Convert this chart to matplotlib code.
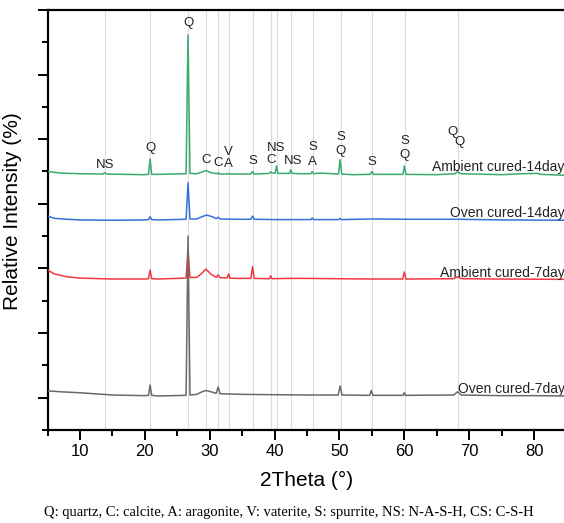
import matplotlib
matplotlib.use("Agg")
import matplotlib.pyplot as plt
from matplotlib.ticker import MultipleLocator, NullFormatter

plt.rcParams["font.family"] = ["Liberation Sans", "DejaVu Sans"]

# XRD traces, 2theta (deg) vs relative intensity, already stacked
oven7_tt = [5, 7, 10, 15, 20, 20.55, 20.8, 21.05, 22, 26.35, 26.65, 26.95, 28, 28.8, 29.4, 30.2,
            31.0, 31.3, 31.6, 35, 40, 45, 49.8, 50.1, 50.4, 54.65, 54.9, 55.15, 59.8, 60.0, 60.2,
            67.6, 68.2, 68.8, 75, 80, 85]
oven7_y = [0.21, 0.18, 0.15, 0.08, 0.06, 0.07, 0.39, 0.07, 0.05, 0.07, 5.0, 0.08, 0.10, 0.18, 0.22,
           0.18, 0.13, 0.33, 0.12, 0.10, 0.09, 0.08, 0.08, 0.36, 0.08, 0.07, 0.22, 0.07, 0.07, 0.15,
           0.07, 0.08, 0.18, 0.08, 0.06, 0.06, 0.05]

amb7_tt = [5, 6, 8, 10, 15, 20, 20.55, 20.8, 21.05, 22, 26.35, 26.65, 26.95, 28, 28.8, 29.4, 30.2,
           31.0, 31.3, 31.6, 32.7, 32.9, 33.1, 34, 36.35, 36.6, 36.85, 39.2, 39.4, 39.6, 42, 45,
           50, 55, 59.75, 60.0, 60.25, 67.6, 68.2, 68.8, 75, 85]
amb7_y = [3.95, 3.83, 3.74, 3.70, 3.67, 3.67, 3.68, 3.95, 3.68, 3.67, 3.70, 4.60, 3.72, 3.72, 3.85,
          3.98, 3.82, 3.72, 3.80, 3.71, 3.71, 3.83, 3.70, 3.69, 3.69, 4.05, 3.69, 3.68, 3.77, 3.68,
          3.69, 3.69, 3.68, 3.67, 3.67, 3.89, 3.67, 3.68, 3.74, 3.68, 3.67, 3.66]

oven14_tt = [5, 6, 8, 10, 15, 20, 20.55, 20.8, 21.05, 22, 26.35, 26.65, 26.95, 28, 28.8, 29.5, 30.4,
             31.0, 31.3, 31.6, 34, 36.35, 36.6, 36.85, 40, 45.6, 45.8, 46.0, 49.9, 50.1, 50.3, 55,
             60, 68.2, 75, 85]
oven14_y = [5.62, 5.55, 5.52, 5.50, 5.49, 5.50, 5.51, 5.60, 5.51, 5.50, 5.52, 6.65, 5.53, 5.53, 5.60,
            5.65, 5.60, 5.54, 5.58, 5.53, 5.52, 5.52, 5.62, 5.52, 5.51, 5.51, 5.56, 5.51, 5.51, 5.55,
            5.51, 5.53, 5.52, 5.52, 5.50, 5.49]

amb14_tt = [5, 7, 10, 13.5, 13.8, 14.1, 20, 20.55, 20.8, 21.05, 22, 26.35, 26.65, 26.95, 28, 28.8,
            29.4, 30.2, 31.1, 31.3, 31.5, 32.7, 32.9, 33.1, 36.35, 36.6, 36.85, 39.2, 39.4, 39.6,
            40.1, 40.3, 40.5, 42.3, 42.5, 42.7, 44, 45.6, 45.8, 46.0, 47, 49.85, 50.1, 50.35, 52,
            54.75, 55.0, 55.25, 59.8, 60.0, 60.25, 65, 67.8, 68.2, 68.7, 75, 78, 80.5, 81, 85]
amb14_y = [7.00, 6.95, 6.93, 6.92, 6.96, 6.92, 6.90, 6.91, 7.39, 6.91, 6.91, 6.93, 11.23, 6.94, 6.93,
           6.98, 7.03, 6.96, 6.93, 6.96, 6.92, 6.92, 6.94, 6.92, 6.92, 7.00, 6.92, 6.94, 6.99, 6.95,
           6.95, 7.17, 6.94, 6.94, 7.05, 6.94, 6.93, 6.93, 7.00, 6.93, 6.95, 6.92, 7.36, 6.92, 6.90,
           6.91, 7.00, 6.91, 6.91, 7.17, 6.91, 6.90, 6.93, 6.99, 6.93, 6.90, 6.93, 6.94, 6.91, 6.88]

# name, x, y, colour, label height, drawing order
series = [
    ("Oven cured-7day", oven7_tt, oven7_y, "#6a6a6a", 0.27, 4),
    ("Ambient cured-7day", amb7_tt, amb7_y, "#f0393f", 3.86, 3),
    ("Oven cured-14day", oven14_tt, oven14_y, "#3572d8", 5.72, 3),
    ("Ambient cured-14day", amb14_tt, amb14_y, "#3aab6e", 7.14, 3),
]

# phase reference positions (2theta) and their labels
ref_lines = [13.8, 20.8, 26.65, 29.4, 31.3, 32.9, 36.6, 39.4, 40.3, 42.5, 45.9, 50.2, 55.0, 60.1, 68.2]
phase_x = [13.8, 20.8, 26.65, 29.4, 31.3, 32.9, 32.9, 36.6, 39.4, 40.3, 42.9, 45.9, 45.9,
           50.2, 50.2, 55.0, 60.1, 60.1, 67.4, 68.5]
phase_y = [7.20, 7.73, 11.6, 7.36, 7.27, 7.60, 7.24, 7.33, 7.36, 7.73, 7.33, 7.76, 7.30,
           8.07, 7.64, 7.30, 7.95, 7.51, 8.23, 7.92]
phase_txt = ["NS", "Q", "Q", "C", "C", "V", "A", "S", "C", "NS", "NS", "S", "A",
             "S", "Q", "S", "S", "Q", "Q", "Q"]

fig = plt.figure(figsize=(5.64, 5.23), dpi=100)
ax = fig.add_axes([0.0844, 0.178, 0.92, 0.803])

for x in ref_lines:
    ax.axvline(x, color="#dcdcdc", lw=0.8, zorder=0)

for name, tt, y, col, ly, z in series:
    ax.plot(tt, y, color=col, lw=1.1, zorder=z)
    ax.text(84.75, ly, name, ha="right", va="center", fontsize=10, color="#222222")

for x, y, t in zip(phase_x, phase_y, phase_txt):
    ax.text(x, y, t, ha="center", va="center", fontsize=9.5, color="#222222")

ax.set_xlim(5, 85)
ax.set_ylim(-1, 12)
ax.xaxis.set_major_locator(MultipleLocator(10))
ax.xaxis.set_minor_locator(MultipleLocator(5))
ax.yaxis.set_major_locator(MultipleLocator(2))
ax.yaxis.set_minor_locator(MultipleLocator(1))
ax.yaxis.set_major_formatter(NullFormatter())
ax.tick_params(which="major", direction="out", length=7, width=1.4, labelsize=12)
ax.tick_params(which="minor", direction="out", length=4, width=1.4)
for s in ["left", "bottom", "top"]:
    ax.spines[s].set_linewidth(1.6)
ax.spines["right"].set_visible(False)

ax.set_xlabel("2Theta (°)", fontsize=15, labelpad=8)
ax.set_ylabel("Relative Intensity (%)", fontsize=15, labelpad=14)
ax.yaxis.set_label_coords(-0.05, 0.52)

fig.text(0.512, 0.021, "Q: quartz, C: calcite, A: aragonite, V: vaterite, S: spurrite, NS: N-A-S-H, CS: C-S-H",
         ha="center", va="center", fontsize=10.5, family=["Liberation Serif", "DejaVu Serif"])

fig.savefig("out.png", dpi=100)
